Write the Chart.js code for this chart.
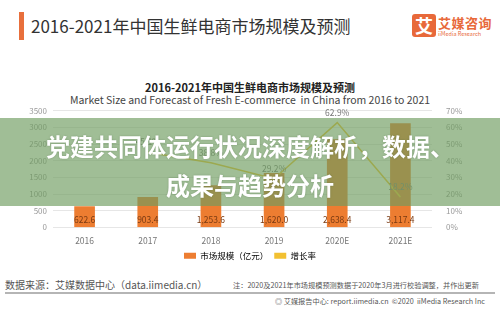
<!DOCTYPE html>
<html>
<head>
<meta charset="utf-8">
<script src="https://cdn.jsdelivr.net/npm/chart.js@4"></script>
<style>
  html, body { margin: 0; padding: 0; background: #fff; }
  body { width: 500px; height: 325px; position: relative; overflow: hidden;
         font-family: "Noto Sans CJK SC", "Noto Sans", sans-serif; }
  .bar-mark { position: absolute; left: 19px; top: 12px; width: 5px; height: 28px; background: #e86f3c; }
  .head { position: absolute; left: 31px; top: 13px; font-size: 17px; color: #333; white-space: nowrap; }
  .logo-box { position: absolute; left: 412px; top: 14px; width: 24px; height: 23px; background: #e8693a;
              border-radius: 3px; color: #fff; font-weight: bold; font-size: 18px; line-height: 23px; text-align: center; }
  .logo-cn { position: absolute; left: 438px; top: 13px; font-size: 13px; font-weight: bold; color: #e8693a; letter-spacing: 0.5px; }
  .logo-en { position: absolute; left: 438px; top: 30px; font-size: 5.5px; color: #e8693a; }
  .ctitle { position: absolute; left: 0; width: 500px; text-align: center; white-space: nowrap; color: #222; }
  #wrap { position: absolute; left: 0; top: 100px; width: 500px; height: 170px; }
  .band { position: absolute; left: 0; top: 118px; width: 500px; height: 88px; background: rgba(111,156,96,0.66); }
  .band-text { position: absolute; left: 0; width: 500px; text-align: center; color: #fff; font-weight: bold;
               font-size: 24px; white-space: nowrap; text-shadow: 0 0 2px rgba(60,90,50,0.4); }
  .foot-l { position: absolute; left: 5px; top: 277px; font-size: 10px; color: #555; white-space: nowrap; }
  .foot-r { position: absolute; left: 233px; top: 280px; font-size: 7.2px; color: #555; white-space: nowrap; }
  .rule { position: absolute; left: 5px; top: 292px; width: 490px; height: 2px; background: #b5b5b5; }
  .foot-b { position: absolute; right: 15px; top: 296px; font-size: 7.2px; color: #555; white-space: nowrap; }
</style>
</head>
<body>
<div class="bar-mark"></div>
<div class="head">2016-2021年中国生鲜电商市场规模及预测</div>
<div class="logo-box">艾</div>
<div class="logo-cn">艾媒咨询</div>
<div class="logo-en">iiMedia Research</div>

<div class="ctitle" style="top:79px;font-size:11px;font-weight:bold;">2016-2021年中国生鲜电商市场规模及预测</div>
<div class="ctitle" style="top:92px;font-size:10.5px;color:#444;">Market Size and Forecast of Fresh E-commerce&nbsp; in China from 2016 to 2021</div>

<div id="wrap"><canvas id="myChart"></canvas></div>

<div class="band"></div>
<div class="band-text" style="top:128px;">党建共同体运行状况深度解析，数据、</div>
<div class="band-text" style="top:167px;">成果与趋势分析</div>

<div class="foot-l">数据来源：艾媒数据中心（data.iimedia.cn）</div>
<div class="foot-r">注：2020及2021年市场规模预测数据于2020年3月进行校验调整，并作出更新</div>
<div class="rule"></div>
<div class="foot-b">◎ 艾媒报告中心: report.iimedia.cn&nbsp; ©2020&nbsp; iiMedia Research Inc</div>

<script>
const years = ["2016", "2017", "2018", "2019", "2020E", "2021E"];
const marketSize = [622.6, 903.4, 1253.6, 1620.0, 2638.4, 3117.4];   // 亿元
const growthRate = [null, 0.451, 0.388, 0.292, 0.629, 0.182];

const orange = "#ed7d31";
const gold = "#f2c031";
const font = "'Noto Sans CJK SC', 'Noto Sans', sans-serif";

// numbers on the bars and above the growth points
const valueLabels = {
  id: "valueLabels",
  afterDatasetsDraw(chart) {
    const ctx = chart.ctx;
    ctx.save();
    ctx.textAlign = "center";
    ctx.textBaseline = "middle";
    ctx.font = "8.5px " + font;
    chart.getDatasetMeta(1).data.forEach((bar, i) => {
      ctx.fillStyle = "#7a3a12";
      const txt = marketSize[i].toLocaleString("en-US", { minimumFractionDigits: 1 });
      ctx.fillText(txt, bar.x, chart.scales.y.bottom - 8);
    });
    chart.getDatasetMeta(0).data.forEach((pt, i) => {
      if (growthRate[i] == null) return;
      ctx.fillStyle = "#777";
      ctx.fillText((growthRate[i] * 100).toFixed(1) + "%", pt.x, pt.y - 10);
    });
    ctx.restore();
  }
};

new Chart(document.getElementById("myChart"), {
  data: {
    labels: years,
    datasets: [{
      type: "line",
      label: "增长率",
      data: growthRate,
      yAxisID: "y1",
      borderColor: gold,
      backgroundColor: gold,
      borderWidth: 1.5,
      pointRadius: 0,
      tension: 0,
      order: 0
    }, {
      type: "bar",
      label: "市场规模（亿元）",
      data: marketSize,
      yAxisID: "y",
      backgroundColor: orange,
      barThickness: 20,
      order: 1
    }]
  },
  options: {
    responsive: true,
    maintainAspectRatio: false,
    animation: false,
    layout: { padding: { top: 4, left: 0, right: 0, bottom: 0 } },
    plugins: {
      legend: {
        position: "bottom",
        labels: {
          font: { family: font, size: 8.5 },
          color: "#666",
          boxWidth: 12,
          boxHeight: 6,
          padding: 6,
          generateLabels(chart) {
            return [
              { text: "市场规模（亿元）", fillStyle: orange, strokeStyle: orange, lineWidth: 0, datasetIndex: 1 },
              { text: "增长率", fillStyle: gold, strokeStyle: gold, lineWidth: 0, pointStyle: "line", datasetIndex: 0 }
            ];
          }
        }
      },
      tooltip: { enabled: false }
    },
    scales: {
      x: {
        grid: { display: false },
        border: { display: false },
        ticks: { color: "#777", font: { family: font, size: 8.5 }, padding: 0 }
      },
      y: {
        position: "left",
        min: 0,
        max: 3500,
        ticks: { stepSize: 500, color: "#999", font: { family: font, size: 8 }, padding: 6,
                 callback: v => String(v) },
        grid: { color: "#e6e6e6", drawTicks: false },
        border: { display: false },
        afterFit(scale) { scale.width = 53; }
      },
      y1: {
        position: "right",
        min: 0,
        max: 0.7,
        ticks: {
          stepSize: 0.1,
          color: "#999",
          font: { family: font, size: 8 },
          padding: 6,
          callback: v => Math.round(v * 100) + "%"
        },
        grid: { display: false },
        border: { display: false },
        afterFit(scale) { scale.width = 68; }
      }
    }
  },
  plugins: [valueLabels]
});
</script>
</body>
</html>
